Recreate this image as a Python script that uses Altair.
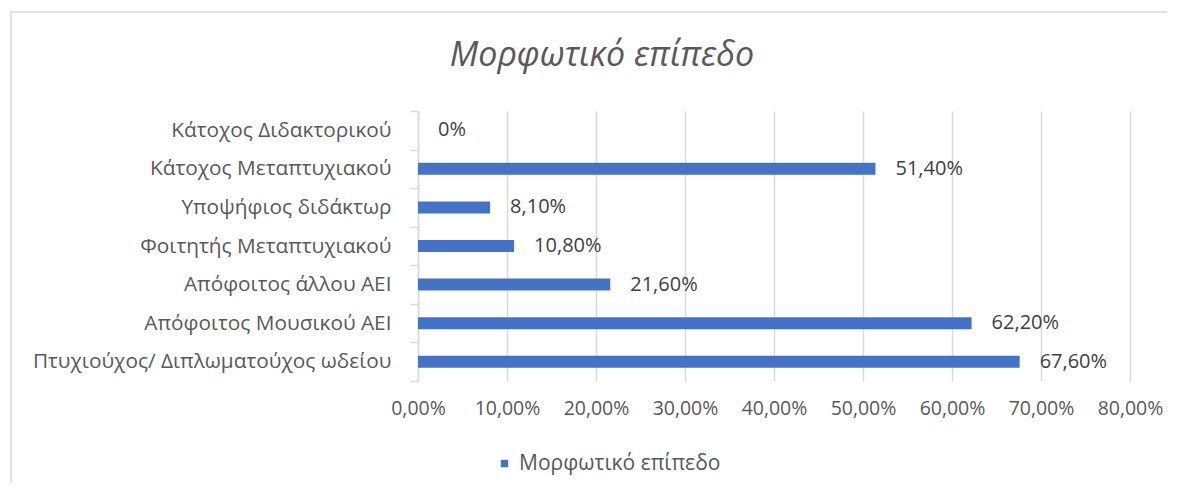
import altair as alt
import pandas as pd

categories = [
    "Κάτοχος Διδακτορικού",
    "Κάτοχος Μεταπτυχιακού",
    "Υποψήφιος διδάκτωρ",
    "Φοιτητής Μεταπτυχιακού",
    "Απόφοιτος άλλου ΑΕΙ",
    "Απόφοιτος Μουσικού ΑΕΙ",
    "Πτυχιούχος/ Διπλωματούχος ωδείου",
]
values = [0.0, 0.514, 0.081, 0.108, 0.216, 0.622, 0.676]
series_name = "Μορφωτικό επίπεδο"
x_ticks = [0, 0.1, 0.2, 0.3, 0.4, 0.5, 0.6, 0.7, 0.8]

FONT = "Open Sans"
GRAY = "#595959"
BLUE = "#4472C4"

df = pd.DataFrame({"cat": categories, "v": values, "series": series_name})

base = alt.Chart(df)

x_enc = alt.X(
    "v:Q",
    scale=alt.Scale(domain=[0, 0.8], nice=False),
    axis=alt.Axis(
        values=x_ticks,
        title=None,
        domain=False,
        ticks=False,
        grid=True,
        gridColor="#D9D9D9",
        gridWidth=1.5,
        labelExpr="replace(format(datum.value, '.2%'), '.', ',')",
        labelFont=FONT,
        labelFontSize=19.5,
        labelColor=GRAY,
        labelPadding=18,
        labelFlush=False,
        labelOverlap=False,
    ),
)
y_enc = alt.Y(
    "cat:N",
    sort=categories,
    scale=alt.Scale(paddingInner=0.0, paddingOuter=0.0),
    axis=alt.Axis(
        title=None,
        domainColor="#D9D9D9",
        domainWidth=1.5,
        tickColor="#D9D9D9",
        tickWidth=1.5,
        tickSize=8,
        tickBand="extent",
        labelFont=FONT,
        labelFontSize=20.8,
        labelColor=GRAY,
        labelPadding=19,
        labelLimit=500,
    ),
)

bars = base.mark_bar(size=12).encode(
    x=x_enc,
    y=y_enc,
    color=alt.Color(
        "series:N",
        scale=alt.Scale(range=[BLUE]),
        legend=alt.Legend(
            title=None,
            orient="none",
            legendX=76,
            legendY=342,
            symbolType="square",
            symbolSize=55,
            labelFont=FONT,
            labelFontSize=21,
            labelColor=GRAY,
            labelLimit=500,
            labelOffset=4,
        ),
    ),
)

labels = base.mark_text(
    align="left", dx=20, font=FONT, fontSize=20, color="#404040"
).transform_calculate(
    lab="datum.v == 0 ? '0%' : replace(format(datum.v, '.2%'), '.', ',')"
).encode(
    x="v:Q",
    y=alt.Y("cat:N", sort=categories),
    text="lab:N",
)

frame = alt.Chart(pd.DataFrame({"a": [0]})).mark_rect(
    fillOpacity=0, stroke="#D9D9D9", strokeWidth=1.5
).encode(
    x=alt.value(-407), x2=alt.value(820), y=alt.value(-99), y2=alt.value(430)
)

chart = alt.layer(frame, bars, labels).properties(
    width=712,
    height=270,
    autosize=alt.AutoSizeParams(type="none"),
    padding={"left": 410, "top": 103, "right": 37, "bottom": 102},
    title=alt.TitleParams(
        series_name,
        font=FONT,
        fontSize=34,
        fontStyle="italic",
        fontWeight="normal",
        color=GRAY,
        anchor="middle",
        frame="group",
        dx=-172,
        offset=0,
        dy=62,
    ),
).configure_view(stroke=None)

chart.save("out.html", embed_options={"renderer": "svg", "actions": False})
